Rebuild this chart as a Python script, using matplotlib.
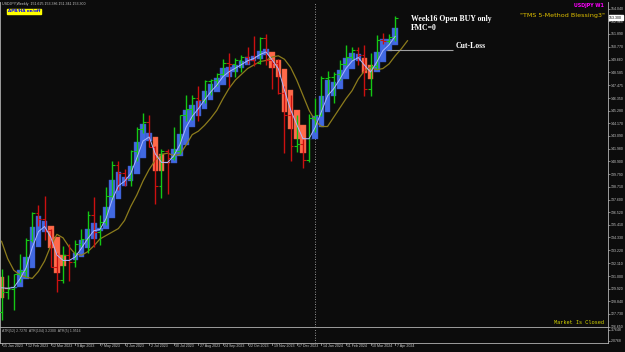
import numpy as np
import matplotlib.pyplot as plt

# weekly USDJPY bars, 15 Jan 2023 .. 7 Apr 2024
opens = [127.9, 129.6, 129.9, 131.2, 131.4, 134.1, 136.4, 135.9, 135.0, 131.8,
         130.7, 132.8, 132.2, 133.8, 134.2, 136.3, 134.8, 135.7, 137.9, 140.6,
         139.9, 139.4, 141.8, 143.7, 144.3, 142.1, 138.8, 141.8, 141.2, 141.8,
         144.9, 145.4, 146.4, 146.2, 147.8, 147.9, 148.4, 149.4, 149.3, 149.6,
         149.9, 149.6, 149.4, 151.5, 149.6, 149.4, 146.8, 144.9, 142.2, 142.4,
         141.0, 144.6, 144.9, 148.1, 148.2, 148.4, 149.3, 149.9, 150.5, 150.1,
         147.1, 149.1, 151.4, 151.3, 151.6]
highs = [131.6, 131.1, 131.2, 132.9, 134.3, 136.5, 137.1, 137.9, 135.1, 133.0,
         133.6, 133.8, 134.1, 135.1, 136.6, 137.8, 136.3, 138.7, 140.9, 140.9,
         140.2, 141.9, 143.9, 145.1, 144.9, 142.2, 142.0, 142.0, 143.9, 144.9,
         146.6, 146.6, 147.4, 147.9, 148.0, 148.5, 149.7, 150.2, 149.8, 150.1,
         150.8, 151.7, 151.6, 151.9, 149.7, 149.7, 147.4, 146.6, 144.9, 142.8,
         145.0, 146.4, 148.3, 148.7, 148.6, 149.6, 150.9, 150.8, 150.8, 150.9,
         150.2, 151.8, 152.0, 151.9, 153.4]
lows = [127.2, 129.0, 128.1, 130.5, 130.9, 133.9, 135.3, 134.1, 131.8, 129.6,
        130.4, 130.6, 131.8, 133.5, 133.0, 133.5, 133.7, 135.4, 137.6, 138.4,
        138.8, 138.8, 140.9, 143.3, 142.1, 137.2, 137.7, 138.1, 141.0, 141.5,
        144.4, 144.5, 144.4, 145.9, 146.6, 147.4, 148.3, 147.3, 148.2, 148.6,
        149.3, 149.1, 149.3, 149.2, 147.1, 146.7, 141.6, 140.9, 141.7, 140.3,
        140.8, 143.4, 144.8, 146.6, 145.9, 147.9, 149.2, 149.6, 149.2, 146.5,
        146.5, 148.9, 151.0, 151.0, 151.3]
closes = [129.6, 129.9, 131.2, 131.4, 134.1, 136.4, 135.9, 135.0, 131.8, 130.7,
          132.8, 132.2, 133.8, 134.2, 136.3, 134.8, 135.7, 137.9, 140.6, 139.9,
          139.4, 141.8, 143.7, 144.3, 142.1, 138.8, 141.8, 141.2, 141.8, 144.9,
          145.4, 146.4, 146.2, 147.8, 147.9, 148.4, 149.4, 149.3, 149.6, 149.9,
          149.6, 149.4, 151.5, 149.6, 149.4, 146.8, 144.9, 142.2, 142.4, 141.0,
          144.6, 144.9, 148.1, 148.2, 148.4, 149.3, 149.9, 150.5, 150.1, 147.1,
          149.1, 151.4, 151.3, 151.6, 153.3]

# heiken ashi / APB bodies
ha_open = [130.90, 129.99, 129.95, 130.02, 130.76, 131.72, 133.47, 134.83, 135.28, 134.35,
           132.82, 132.35, 132.35, 132.66, 133.41, 134.22, 134.91, 135.02, 135.97, 137.61,
           138.78, 139.18, 139.83, 141.20, 142.65, 143.00, 141.54, 140.81, 140.79, 141.38,
           142.33, 143.83, 144.78, 145.44, 146.19, 146.88, 147.47, 148.21, 148.63, 148.93,
           149.24, 149.57, 149.76, 150.10, 150.33, 149.64, 148.89, 147.03, 145.34, 144.07,
           142.85, 142.85, 143.84, 145.18, 146.54, 147.16, 147.98, 148.90, 149.55, 149.85,
           149.20, 148.60, 149.45, 150.44, 150.95]
ha_close = [129.08, 129.90, 130.10, 131.50, 132.68, 135.23, 136.18, 135.73, 133.43, 131.28,
            131.88, 132.35, 132.98, 134.15, 135.03, 135.60, 135.13, 136.93, 139.25, 139.95,
            139.58, 140.48, 142.58, 144.10, 143.35, 140.08, 140.08, 140.78, 141.98, 143.28,
            145.33, 145.73, 146.10, 146.95, 147.58, 148.05, 148.95, 149.05, 149.23, 149.55,
            149.90, 149.95, 150.45, 150.55, 148.95, 148.15, 145.18, 143.65, 142.80, 141.63,
            142.85, 144.83, 146.53, 147.90, 147.78, 148.80, 149.83, 150.20, 150.15, 148.55,
            148.00, 150.30, 151.43, 151.45, 152.40]
fast_line = [129.99, 129.95, 130.02, 130.76, 131.72, 133.47, 134.83, 135.28, 134.35, 132.82,
             132.35, 132.35, 132.66, 133.41, 134.22, 134.91, 135.02, 135.97, 137.61, 138.78,
             139.18, 139.83, 141.20, 142.65, 143.00, 141.54, 140.81, 140.79, 141.38, 142.33,
             143.83, 144.78, 145.44, 146.19, 146.88, 147.47, 148.21, 148.63, 148.93, 149.24,
             149.57, 149.76, 150.10, 150.33, 149.64, 148.89, 147.03, 145.34, 144.07, 142.85,
             142.85, 143.84, 145.18, 146.54, 147.16, 147.98, 148.90, 149.55, 149.85, 149.20,
             148.60, 149.45, 150.44, 150.95, 151.68]
# shifted moving average (runs two bars past the last candle)
slow_ma = [134.0, 132.5, 131.5, 131.1, 130.9, 130.8, 131.4, 132.3, 133.6, 134.6,
           134.3, 133.5, 132.9, 132.8, 133.1, 133.6, 134.2, 134.5, 134.8, 135.1,
           135.8, 137.0, 138.0, 139.2, 140.2, 141.0, 141.5, 141.6, 141.4, 141.5,
           142.3, 143.2, 143.5, 144.0, 144.6, 145.3, 146.3, 147.2, 147.9, 148.4,
           148.9, 149.2, 149.5, 149.6, 149.9, 150.0, 149.7, 149.0, 147.9, 146.6,
           145.3, 144.4, 143.9, 143.9, 144.7, 145.5, 146.3, 147.0, 148.0, 148.7,
           149.0, 148.8, 148.9, 149.3, 150.0, 150.6, 151.3]

price_ticks = [154.040, 152.965, 151.890, 150.770, 149.660, 148.585, 147.475, 146.350,
               145.280, 144.170, 143.090, 141.980, 140.900, 139.790, 138.710, 137.600,
               136.520, 135.410, 134.330, 133.220, 132.110, 131.000, 129.920, 128.840,
               127.730, 126.650]
date_labels = ['15 Jan 2023', '12 Feb 2023', '12 Mar 2023', '9 Apr 2023', '7 May 2023',
               '4 Jun 2023', '2 Jul 2023', '30 Jul 2023', '27 Aug 2023', '24 Sep 2023',
               '22 Oct 2023', '19 Nov 2023', '17 Dec 2023', '14 Jan 2024', '11 Feb 2024',
               '10 Mar 2024', '7 Apr 2024']
date_bars = list(range(0, 65, 4))
atr_ticks = [3.7648, 2.0768]
last_price = 153.300
cut_loss = 150.5

bg = '#0c0c0c'
grey = '#b4b4b4'
small = 'Liberation Sans'
W, H = 625, 352


def fpos(x, y):
    return x / W, 1 - y / H


fig = plt.figure(figsize=(6.25, 3.52), dpi=100, facecolor=bg)
ax = fig.add_axes([0, 0.0724, 0.9728, 0.9219], facecolor=bg)
ax2 = fig.add_axes([0, 0.0256, 0.9728, 0.044], facecolor=bg)

x = np.arange(len(closes))
ho = np.array(ha_open)
hc = np.array(ha_close)
body_col = ['#4169e1' if c >= o else '#ff6a4a' for o, c in zip(ho, hc)]
edge_col = ['#3450c0' if c >= o else '#e05a3c' for o, c in zip(ho, hc)]
ax.bar(x, np.abs(hc - ho), bottom=np.minimum(ho, hc), width=0.9,
       color=body_col, edgecolor=edge_col, linewidth=0.3, zorder=2)

wick_col = ['#14c814' if c >= o else '#cc1010' for o, c in zip(opens, closes)]
ax.vlines(x, lows, highs, colors=wick_col, linewidth=1.0, zorder=4)
ax.hlines(opens, x - 0.45, x, colors=wick_col, linewidth=0.8, zorder=4)
ax.hlines(closes, x, x + 0.45, colors=wick_col, linewidth=0.8, zorder=4)

ax.plot(x, fast_line, color='#aab8ff', linewidth=0.7, zorder=5)
ax.plot(np.arange(len(slow_ma)), slow_ma, color='#8c7c1c', linewidth=0.9, zorder=3)

ax.hlines(cut_loss, 62.7, 73.4, colors='#a0a0a0', linewidth=0.8, zorder=3)
for a in (ax, ax2):
    a.axvline(51, color='#c0c0c0', linestyle=(0, (1, 2)), linewidth=0.6, zorder=1)

ax.set_xlim(-0.25, 98.6)
ax.set_ylim(126.67, 154.64)
ax2.set_xlim(-0.25, 98.6)
ax2.set_ylim(1.77, 4.148)

for a in (ax, ax2):
    a.yaxis.tick_right()
    a.set_xticks([])
    a.spines['top'].set_visible(False)
    for s in ('left', 'right', 'bottom'):
        a.spines[s].set_color(grey)
        a.spines[s].set_linewidth(0.6)
    a.tick_params(axis='y', direction='out', length=1.5, width=0.5, color=grey,
                  labelsize=2.5, labelcolor='#c8c8c8', pad=0.8)

ax.set_yticks(price_ticks)
ax.set_yticklabels(['%.3f' % p for p in price_ticks], family=small)
ax2.set_yticks(atr_ticks)
ax2.set_yticklabels(['%.4f' % v for v in atr_ticks], family=small)

# date axis, MT4 style: tick then left aligned label
for b, lab in zip(date_bars, date_labels):
    ax2.plot([b, b], [0, -0.12], transform=ax2.get_xaxis_transform(),
             color=grey, linewidth=0.5, clip_on=False)
    ax2.annotate(lab, (b, 0), xycoords=ax2.get_xaxis_transform(),
                 xytext=(1.0, -1.0), textcoords='offset points',
                 ha='left', va='top', fontsize=2.6, color='#c8c8c8', family=small)

ax.text(1.002, last_price, '%.3f' % last_price, transform=ax.get_yaxis_transform(),
        ha='left', va='center', fontsize=2.5, color='black', zorder=10, family=small,
        bbox=dict(facecolor='white', edgecolor='white', pad=0.4))

fig.text(*fpos(2, 4), 'USDJPY,Weekly  151.625 153.386 151.341 153.300',
         fontsize=2.6, color='#c8c8c8', va='center', ha='left', family=small)
fig.text(*fpos(8, 11.5), 'APB/HA on/off', fontsize=3.0, color='#0000ff',
         fontweight='bold', va='center', ha='left',
         bbox=dict(facecolor='#ffff00', edgecolor='#ffff00', pad=0.6))
fig.text(*fpos(604, 5.5), 'USDJPY W1', fontsize=3.4, color='#ff00ff',
         fontweight='bold', va='center', ha='right')
fig.text(*fpos(605, 15), '"TMS 5-Method Blessing3"', fontsize=4.6, color='#e0c000',
         va='center', ha='right')
fig.text(*fpos(411, 19), 'Week16 Open BUY only', fontsize=5.6, color='white',
         fontweight='bold', family='Liberation Serif', va='center', ha='left')
fig.text(*fpos(411, 28.5), 'FMC=0', fontsize=5.6, color='white',
         fontweight='bold', family='Liberation Serif', va='center', ha='left')
fig.text(*fpos(456, 46), 'Cut-Loss', fontsize=5.6, color='white',
         fontweight='bold', family='Liberation Serif', va='center', ha='left')
fig.text(*fpos(604, 323), 'Market Is Closed', fontsize=3.8, color='#d8d800',
         family='Liberation Mono', va='center', ha='right')
fig.text(*fpos(2, 331), 'ATR(52) 2.7270  ATR(104) 3.2300  ATR(5) 1.9516',
         fontsize=2.5, color='#b0b0b0', va='center', ha='left', family=small)

fig.savefig('out.png', dpi=100, facecolor=bg)
